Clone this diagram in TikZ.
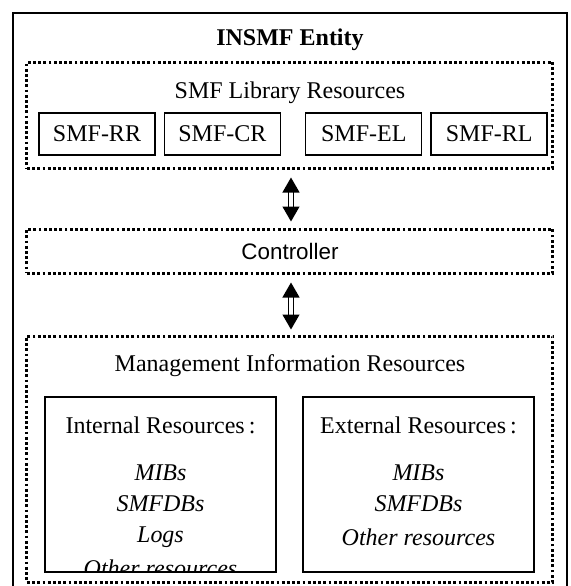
\documentclass[tikz,border=0pt]{standalone}
\usepackage{fontspec}
\setmainfont{Liberation Serif}
\newfontfamily\ctrlfont{Liberation Sans}
\usetikzlibrary{positioning,arrows.meta}

\begin{document}
\begin{tikzpicture}[x=0.5pt, y=-0.5pt,
                    font=\fontsize{12}{14}\selectfont,
                    dotbox/.style={draw, line width=1.5pt, dash pattern=on 1.4pt off 1.2pt, minimum width=263pt, inner sep=0pt},
                    smfbox/.style={draw, line width=0.7pt, minimum width=58pt, minimum height=21pt, inner sep=0pt},
                    resbox/.style={draw, line width=0.7pt, minimum width=115.5pt, minimum height=87.5pt, inner sep=0pt},
                    linkarrow/.style={double, double distance=2pt, line width=0.6pt, {Triangle[length=7.5pt,width=8.5pt]}-{Triangle[length=7.5pt,width=8.5pt]}},
                ]
                    \useasboundingbox (0,0) rectangle (570,586);

                    %Entity
                    \draw[line width=0.9pt] (13,600) -- (13,13) -- (567,13) -- (567,600);
                    \node(title) at (290,40) {\bfseries INSMF Entity};

                    %Library
                    \node[dotbox, minimum height=53pt](lib) at (290,115) {};
                    \node(libtitle) at (290,93) {SMF Library Resources};
                    \node[smfbox](rr) at (97,134) {SMF-RR};
                    \node[smfbox](cr)[right=4pt of rr] {SMF-CR};
                    \node[smfbox](el)[right=12pt of cr] {SMF-EL};
                    \node[smfbox](rl)[right=4pt of el] {SMF-RL};

                    %Controller
                    \node[dotbox, minimum height=22pt](ctrl) at (290,251) {\ctrlfont\fontsize{11.2}{13}\selectfont Controller};

                    %Management information
                    \node[dotbox, minimum height=123pt](mir) at (290,459) {};
                    \node(mirtitle) at (290,366) {Management Information Resources};
                    \node[resbox](int) at (160.5,484.5) {};
                    \node[resbox](ext) at (418.5,484.5) {};

                    \node(inttitle) at (160.5,425) {Internal Resources\thinspace:};
                    \node(intmib) at (160.5,473) {\itshape MIBs};
                    \node(intdb) at (160.5,504) {\itshape SMFDBs};
                    \node(intlog) at (160.5,537) {\itshape Logs};
                    \begin{scope}
                        \clip (int.south west) rectangle (int.north east);
                        \node(intother) at (160.5,568) {\itshape Other resources};
                    \end{scope}

                    \node(exttitle) at (418.5,425) {External Resources\thinspace:};
                    \node(extmib) at (418.5,473) {\itshape MIBs};
                    \node(extdb) at (418.5,504) {\itshape SMFDBs};
                    \node(extother) at (418.5,537) {\itshape Other resources};

                    %Arrows
                    \draw[linkarrow, shorten <=4pt, shorten >=3pt] (lib.south -| 291,0) -- (ctrl.north -| 291,0);
                    \draw[linkarrow, shorten <=4pt, shorten >=2.5pt] (ctrl.south -| 291,0) -- (mir.north -| 291,0);
                \end{tikzpicture}
\end{document}
